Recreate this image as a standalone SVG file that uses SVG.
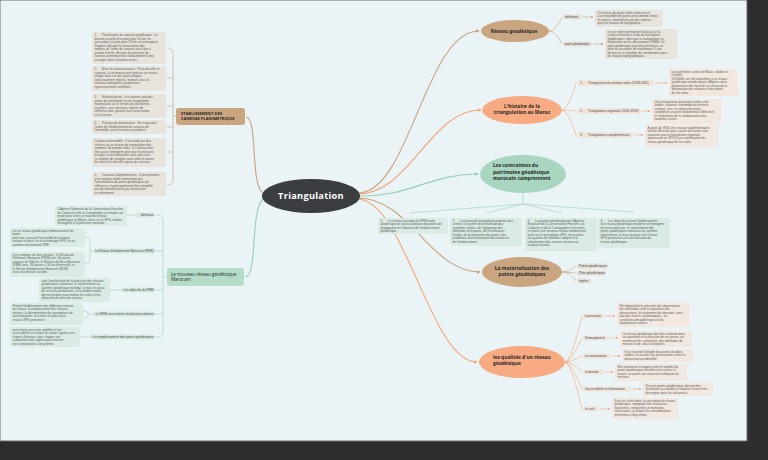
<svg xmlns="http://www.w3.org/2000/svg" width="768" height="460" viewBox="0 0 768 460">
<defs>
<style>
.t{font-family:"Liberation Sans",Arial,sans-serif;font-size:3.05px;fill:#5a5a5a;white-space:pre}
.lb{font-family:"Liberation Sans",Arial,sans-serif;font-size:3.2px;fill:#4a4a4a;white-space:pre}
.h{font-family:"Open Sans","Liberation Sans",sans-serif;font-size:4.9px;font-weight:bold;fill:#2a2a2a}
.bt{fill:#e8e4db}.bg{fill:#d9ebe2}.bp{fill:#f2e8df}
.pt{fill:#e6e0d6}.pg{fill:#d6e9df}.pp{fill:#f1e4d9}
.ct{fill:none;stroke:#c8a27a;stroke-width:1.1}
.cp{fill:none;stroke:#f6a275;stroke-width:1.1}
.cg{fill:none;stroke:#93d1b5;stroke-width:1.1}
.st{fill:none;stroke:#c8a27a;stroke-width:0.6}
.sp{fill:none;stroke:#f6a275;stroke-width:0.6}
.sg{fill:none;stroke:#93d1b5;stroke-width:0.6}
.dot{fill:#fff;stroke:#c9c9c9;stroke-width:0.4}
</style>
<marker id="mt" viewBox="0 0 6 6" refX="5" refY="3" markerWidth="4" markerHeight="4" markerUnits="userSpaceOnUse" orient="auto"><path d="M0,0L6,3L0,6z" fill="#c8a27a"/></marker>
<marker id="mp" viewBox="0 0 6 6" refX="5" refY="3" markerWidth="4" markerHeight="4" markerUnits="userSpaceOnUse" orient="auto"><path d="M0,0L6,3L0,6z" fill="#f6a275"/></marker>
<marker id="mg" viewBox="0 0 6 6" refX="5" refY="3" markerWidth="4" markerHeight="4" markerUnits="userSpaceOnUse" orient="auto"><path d="M0,0L6,3L0,6z" fill="#93d1b5"/></marker>
<marker id="st" viewBox="0 0 6 6" refX="5" refY="3" markerWidth="2.6" markerHeight="2.6" markerUnits="userSpaceOnUse" orient="auto"><path d="M0,0L6,3L0,6z" fill="#c8a27a"/></marker>
<marker id="sp" viewBox="0 0 6 6" refX="5" refY="3" markerWidth="2.6" markerHeight="2.6" markerUnits="userSpaceOnUse" orient="auto"><path d="M0,0L6,3L0,6z" fill="#f6a275"/></marker>
</defs>

<rect x="0" y="0" width="768" height="460" fill="#2d2d2d"/>
<rect x="0" y="0" width="747" height="441" fill="#eaf4f6" stroke="#6a6a6a" stroke-width="1"/>

<g id="connectors">
<path class="ct" d="M358,193 C410,193 425,31 479,31" marker-end="url(#mt)"/>
<path class="cp" d="M358,194 C410,194 430,110 481,110" marker-end="url(#mp)"/>
<path class="cg" d="M359,196 C410,197 430,174 478,174" marker-end="url(#mg)"/>
<path class="ct" d="M358,198 C410,198 430,272 480,272" marker-end="url(#mt)"/>
<path class="cp" d="M357,199 C405,199 430,362 477,362" marker-end="url(#mp)"/>
<path class="ct" d="M263,193 C250,185 258,117 246,117"/>
<path class="cg" d="M263,199 C250,210 258,277 245,277"/>
<path class="st" d="M549,31 Q556,31 562,17"/>
<path class="st" d="M549,31 Q556,31 562,44"/>
<path class="st" d="M583,17 L593,17" marker-end="url(#st)"/>
<path class="st" d="M593,44 L603,44" marker-end="url(#st)"/>
<path class="sp" d="M562,110 Q568,110 576,83"/>
<path class="sp" d="M562,110 L576,111"/>
<path class="sp" d="M562,110 Q568,110 576,135"/>
<path class="sp" d="M655,83 L667,83" marker-end="url(#sp)"/>
<path class="sp" d="M642,111 L650,111" marker-end="url(#sp)"/>
<path class="sp" d="M635,135 L643,135" marker-end="url(#sp)"/>
<path class="sg" d="M523,193 L523,204 M523,204 L410,213 M523,204 L486,213 M523,204 L562,213 M523,204 L634,212"/>
<path class="st" d="M562,272 Q570,272 576,266"/>
<path class="st" d="M562,272 L576,273"/>
<path class="st" d="M562,272 Q570,272 576,281"/>
<path class="sp" d="M565,362 Q571,362 582,316"/>
<path class="sp" d="M565,362 Q571,362 582,338"/>
<path class="sp" d="M565,362 Q571,362 582,356"/>
<path class="sp" d="M565,362 Q571,362 582,372"/>
<path class="sp" d="M565,362 Q571,362 582,389"/>
<path class="sp" d="M565,362 Q571,362 582,409"/>
<path class="sp" d="M605,316 L615,316" marker-end="url(#sp)"/>
<path class="sp" d="M610,338 L618,338" marker-end="url(#sp)"/>
<path class="sp" d="M612,356 L620,356" marker-end="url(#sp)"/>
<path class="sp" d="M605,372 L613,372" marker-end="url(#sp)"/>
<path class="sp" d="M632,389 L641,389" marker-end="url(#sp)"/>
<path class="sp" d="M600,409 L610,409" marker-end="url(#sp)"/>
<path class="st" d="M167,48 Q173,48 173,53 L173,180 Q173,185 167,185 M167,78 L173,78 M167,106 L173,106 M167,127 L173,127 M167,152 L173,152 M173,116 L176,116"/>
<path class="sg" d="M156,215 Q163,215 163,220 L163,332 Q163,337 156,337 M155,251 L163,251 M155,290 L163,290 M155,314 L163,314 M163,277 L167,277"/>
<path class="sg" d="M127,215 L135,215 M85,237 Q90,237 90,242 L90,259 Q90,264 85,264 M90,251 L94,251 M110,290 L121,290 M83,311 Q88,311 88,313 L88,316 Q88,318 83,318 M88,314 L94,314 M80,337 L91,337"/>
</g>

<g id="root">
<ellipse cx="311" cy="196" rx="49" ry="17" fill="#3a3e41"/>
<text x="311" y="199.3" text-anchor="middle" font-family="'Open Sans','Liberation Sans',sans-serif" font-size="9.2" font-weight="bold" fill="#ffffff" letter-spacing="0.3">Triangulation</text>
</g>

<g id="reseau-geodesique">
<ellipse cx="515" cy="31" rx="34" ry="11" fill="#c9a680"/>
<text class="h" x="514" y="32.8" text-anchor="middle">Réseau geodésique</text>
<circle class="dot" cx="485" cy="41" r="2"/>
</g>
<g id="rg-definition">
<rect class="pt" x="563" y="14.5" width="19" height="5" rx="2"/>
<text class="lb" x="565" y="18.1">définition</text>
</g>
<g id="rg-point">
<rect class="pt" x="563" y="41.5" width="29" height="5" rx="2"/>
<text class="lb" x="565" y="45.1">point géodésique</text>
</g>
<g id="rg-def-text">
<rect class="bt" x="595" y="10" width="68" height="17" rx="2"/>
<text class="t"><tspan x="597.5" y="13.6">Un réseau de points reliés entre eux et</tspan><tspan x="597.5" dy="3.5">à un ensemble de points précisément choisis</tspan><tspan x="597.5" dy="3.5">et connus, matérialisés par des repères</tspan><tspan x="597.5" dy="3.5">pour les travaux de topographie.</tspan></text>
</g>
<g id="rg-point-text">
<rect class="bt" x="605" y="29" width="72" height="30" rx="2"/>
<text class="t"><tspan x="607.5" y="32.6">est un repère permanent localisé sur la</tspan><tspan x="607.5" dy="3.5">surface terrestre à l'aide de techniques</tspan><tspan x="607.5" dy="3.5">géodésiques telles que la triangulation, la</tspan><tspan x="607.5" dy="3.5">trilatération ou les observations GNSS. Un</tspan><tspan x="607.5" dy="3.5">point géodésique peut être une borne, un</tspan><tspan x="607.5" dy="3.5">pilier ou un repère de nivellement. Il sert</tspan><tspan x="607.5" dy="3.5">de base à un système de coordonnées pour</tspan><tspan x="607.5" dy="3.5">les travaux topographiques.</tspan></text>
</g>

<g id="histoire">
<ellipse cx="522" cy="110" rx="40" ry="14" fill="#f8ab82"/>
<text class="h" text-anchor="middle"><tspan x="522" y="107.6">L'histoire de la</tspan><tspan x="522" dy="6.4">triangulation au Maroc</tspan></text>
<circle class="dot" cx="485" cy="130" r="2"/>
</g>
<g id="hist-1">
<rect class="pp" x="577" y="80" width="77" height="6" rx="2"/>
<text class="lb" x="580" y="84">1.      Triangulation de premier ordre (1918-1961)</text>
</g>
<g id="hist-2">
<rect class="pp" x="577" y="108" width="64" height="6" rx="2"/>
<text class="lb" x="580" y="112">2.      Triangulation régionale (1926-1956)</text>
</g>
<g id="hist-3">
<rect class="pp" x="577" y="132" width="57" height="6" rx="2"/>
<text class="lb" x="580" y="136">3.      Triangulation complémentaire</text>
</g>
<g id="hist-1-text">
<rect class="bp" x="669" y="69" width="69" height="27" rx="2"/>
<text class="t"><tspan x="671.5" y="72.6">Les premières cartes du Maroc, établies à</tspan><tspan x="671.5" dy="3.5">l'échelle</tspan><tspan x="671.5" dy="3.5">1/200000, ont été rattachées à un réseau</tspan><tspan x="671.5" dy="3.5">géodésique étendu depuis l'Algérie, mais</tspan><tspan x="671.5" dy="3.5">présentaient des lacunes au niveau de la</tspan><tspan x="671.5" dy="3.5">déformation des réseaux et des points</tspan><tspan x="671.5" dy="3.5">de 1er ordre.</tspan></text>
</g>
<g id="hist-2-text">
<rect class="bp" x="652" y="99" width="70" height="25" rx="2"/>
<text class="t"><tspan x="654.5" y="102.6">Une triangulation de premier ordre a été</tspan><tspan x="654.5" dy="3.5">établie, couvrant l'ensemble du territoire</tspan><tspan x="654.5" dy="3.5">national, avec un réseau de points</tspan><tspan x="654.5" dy="3.5">complétant un point fondamental à Merchich</tspan><tspan x="654.5" dy="3.5">et l'orientation de la compensation des</tspan><tspan x="654.5" dy="3.5">nouvelles cartes.</tspan></text>
</g>
<g id="hist-3-text">
<rect class="bp" x="645" y="125" width="73" height="22" rx="2"/>
<text class="t"><tspan x="647.5" y="128.6">À partir de 1956, des travaux supplémentaires</tspan><tspan x="647.5" dy="3.5">ont été effectués pour couvrir des zones non</tspan><tspan x="647.5" dy="3.5">couvertes par la triangulation régionale,</tspan><tspan x="647.5" dy="3.5">aboutissant en 1974 à une amélioration du</tspan><tspan x="647.5" dy="3.5">réseau géodésique de 1er ordre.</tspan></text>
</g>

<g id="contraintes">
<ellipse cx="523" cy="174" rx="43" ry="19" fill="#a8d6bf"/>
<text class="h"><tspan x="493" y="167.2">Les contraintes du</tspan><tspan x="493" dy="6.4">patrimoine géodésique</tspan><tspan x="493" dy="6.4">marocain comprennent</tspan></text>
<circle class="dot" cx="485" cy="197" r="2"/>
</g>
<g id="contr-1">
<rect class="bg" x="378" y="218" width="70" height="16" rx="2"/>
<text class="t"><tspan x="380.5" y="221.6">1.      Le réseau classique du RFM porte</tspan><tspan x="380.5" dy="3.5">géodésique de classe ordinaire des points de</tspan><tspan x="380.5" dy="3.5">propagation en l'absence de l'établissement</tspan><tspan x="380.5" dy="3.5">géodésique.</tspan></text>
</g>
<g id="contr-2">
<rect class="bg" x="450" y="218" width="72" height="28" rx="2"/>
<text class="t"><tspan x="452.5" y="221.6">2.      Le réseau de triangulation primaire des</tspan><tspan x="452.5" dy="3.5">années 50 souffre de la multitude des</tspan><tspan x="452.5" dy="3.5">systèmes utilisés, de l'adaptation des</tspan><tspan x="452.5" dy="3.5">méthodes techniques, de l'insuffisance</tspan><tspan x="452.5" dy="3.5">d'ordre, de la disparition des points, des</tspan><tspan x="452.5" dy="3.5">problèmes d'environnement des bornes et</tspan><tspan x="452.5" dy="3.5">de l'établissement.</tspan></text>
</g>
<g id="contr-3">
<rect class="bg" x="525" y="218" width="72" height="33" rx="2"/>
<text class="t"><tspan x="527.5" y="221.6">3.      La position géodésique par l'Agence</tspan><tspan x="527.5" dy="3.5">Nationale de la Conservation Foncière, du</tspan><tspan x="527.5" dy="3.5">Cadastre et de la Cartographie est la mise</tspan><tspan x="527.5" dy="3.5">en place d'un nouveau réseau fondamental</tspan><tspan x="527.5" dy="3.5">basé sur la technologie GPS, nécessitant</tspan><tspan x="527.5" dy="3.5">un système de référence adapté et le</tspan><tspan x="527.5" dy="3.5">rattachement des anciens réseaux au</tspan><tspan x="527.5" dy="3.5">nouveau réseau.</tspan></text>
</g>
<g id="contr-4">
<rect class="bg" x="598" y="218" width="72" height="30" rx="2"/>
<text class="t"><tspan x="600.5" y="221.6">4.      Les objectifs incluent l'établissement</tspan><tspan x="600.5" dy="3.5">d'un réseau géodésique moderne et homogène</tspan><tspan x="600.5" dy="3.5">de haute précision, le rattachement des</tspan><tspan x="600.5" dy="3.5">points géodésiques nationaux au système</tspan><tspan x="600.5" dy="3.5">international, la mise en place d'un réseau</tspan><tspan x="600.5" dy="3.5">GPS permanent et la densification du</tspan><tspan x="600.5" dy="3.5">réseau géodésique.</tspan></text>
</g>

<g id="materialisation">
<ellipse cx="522" cy="272" rx="40" ry="15" fill="#c9a680"/>
<text class="h" text-anchor="middle"><tspan x="522" y="269.6">La matérialisation des</tspan><tspan x="522" dy="6.4">points géodésiques</tspan></text>
<circle class="dot" cx="485" cy="292" r="2"/>
</g>
<g id="mat-1"><rect class="pt" x="577" y="263.5" width="31" height="5" rx="2"/><text class="lb" x="579" y="267.1">Points géodésiques</text></g>
<g id="mat-2"><rect class="pt" x="577" y="270.5" width="29" height="5" rx="2"/><text class="lb" x="579" y="274.1">Plots géodésiques</text></g>
<g id="mat-3"><rect class="pt" x="577" y="278.5" width="14" height="5" rx="2"/><text class="lb" x="579" y="282.1">repère</text></g>

<g id="qualites">
<ellipse cx="522" cy="362" rx="43" ry="16" fill="#f8ab82"/>
<text class="h"><tspan x="493" y="359">les qualités d'un  réseau</tspan><tspan x="493" dy="6.4">géodésique</tspan></text>
<circle class="dot" cx="485" cy="381" r="2"/>
</g>
<g id="q-precision"><rect class="pp" x="583" y="313.5" width="21" height="5" rx="2"/><text class="lb" x="585" y="317.1">la précision</text></g>
<g id="q-homog"><rect class="pp" x="583" y="335.5" width="26" height="5" rx="2"/><text class="lb" x="585" y="339.1">l'homogénéité</text></g>
<g id="q-cons"><rect class="pp" x="583" y="353.5" width="28" height="5" rx="2"/><text class="lb" x="585" y="357.1">la conservation</text></g>
<g id="q-dens"><rect class="pp" x="583" y="369.5" width="21" height="5" rx="2"/><text class="lb" x="585" y="373.1">la densité</text></g>
<g id="q-access"><rect class="pp" x="583" y="386.5" width="48" height="5" rx="2"/><text class="lb" x="585" y="390.1">l'accessibilité et l'information</text></g>
<g id="q-cout"><rect class="pp" x="583" y="406.5" width="16" height="5" rx="2"/><text class="lb" x="585" y="410.1">le coût</text></g>
<g id="q-precision-text">
<rect class="bp" x="617" y="303" width="73" height="24" rx="2"/>
<text class="t"><tspan x="619.5" y="306.6">Elle dépend de la précision des observations,</tspan><tspan x="619.5" dy="3.5">des méthodes et de la répartition des</tspan><tspan x="619.5" dy="3.5">observations, du traitement des données, ainsi</tspan><tspan x="619.5" dy="3.5">que des erreurs systématiques : les</tspan><tspan x="619.5" dy="3.5">conditions atmosphériques et les</tspan><tspan x="619.5" dy="3.5">équipements utilisés.</tspan></text>
</g>
<g id="q-homog-text">
<rect class="bp" x="620" y="331" width="72" height="16" rx="2"/>
<text class="t"><tspan x="622.5" y="334.6">Un réseau géodésique doit être uniforme dans</tspan><tspan x="622.5" dy="3.5">sa répartition et la précision de ses points, en</tspan><tspan x="622.5" dy="3.5">minimisant les contraintes, des méthodes de</tspan><tspan x="622.5" dy="3.5">mesure et de calcul constantes.</tspan></text>
</g>
<g id="q-cons-text">
<rect class="bp" x="622" y="349" width="71" height="13" rx="2"/>
<text class="t"><tspan x="624.5" y="352.6">Il est essentiel d'établir des points durables,</tspan><tspan x="624.5" dy="3.5">stables, et assurer leur préservation contre la</tspan><tspan x="624.5" dy="3.5">destruction accidentelle.</tspan></text>
</g>
<g id="q-dens-text">
<rect class="bp" x="615" y="364" width="72" height="17" rx="2"/>
<text class="t"><tspan x="617.5" y="367.6">Elle représente le rapport entre le nombre de</tspan><tspan x="617.5" dy="3.5">points géodésiques installés et la surface à</tspan><tspan x="617.5" dy="3.5">couvrir, assurant une couverture adéquate du</tspan><tspan x="617.5" dy="3.5">territoire.</tspan></text>
</g>
<g id="q-access-text">
<rect class="bp" x="643" y="383" width="70" height="13" rx="2"/>
<text class="t"><tspan x="645.5" y="386.6">Tous les points géodésiques doivent être</tspan><tspan x="645.5" dy="3.5">facilement accessibles et disposer d'une fiche</tspan><tspan x="645.5" dy="3.5">descriptive pour les utilisateurs.</tspan></text>
</g>
<g id="q-cout-text">
<rect class="bp" x="612" y="398" width="66" height="21" rx="2"/>
<text class="t"><tspan x="614.5" y="401.6">Il est un critère dans la conception du réseau</tspan><tspan x="614.5" dy="3.5">géodésique, impliquant des ressources</tspan><tspan x="614.5" dy="3.5">financières, temporelles et humaines</tspan><tspan x="614.5" dy="3.5">nécessaires, y compris les considérations</tspan><tspan x="614.5" dy="3.5">d'entretien à long terme.</tspan></text>
</g>

<g id="etablissement">
<rect x="176" y="108" width="69" height="17" rx="3" fill="#c9a680"/>
<text font-family="'Open Sans','Liberation Sans',sans-serif" font-size="4.1" font-weight="bold" fill="#2a2a2a"><tspan x="181" y="115">ETABLISSEMENT DES</tspan><tspan x="181" dy="5.2">CANEVAS PLANIMETRIQUE</tspan></text>
<circle class="dot" cx="181" cy="128" r="2"/>
</g>
<g id="etab-1">
<rect class="bt" x="92" y="32" width="74" height="32" rx="2"/>
<text class="t"><tspan x="94.5" y="36.2">1.      Planification du canevas géodésique : La</tspan><tspan x="94.5" dy="3.5">densité actuelle d'un point pour 10 km² en</tspan><tspan x="94.5" dy="3.5">zone plane (1 point pour 15 km² en montagne).</tspan><tspan x="94.5" dy="3.5">Rapport utile que la conservation des</tspan><tspan x="94.5" dy="3.5">repères de l'ordre du canevas sera faite à</tspan><tspan x="94.5" dy="3.5">grande échelle. Besoins de précision du</tspan><tspan x="94.5" dy="3.5">canevas permettant leur rattachement à des</tspan><tspan x="94.5" dy="3.5">ouvrages dans certaines zones.</tspan></text>
</g>
<g id="etab-2">
<rect class="bt" x="92" y="66" width="74" height="25" rx="2"/>
<text class="t"><tspan x="94.5" y="70">2.      Mise en reconnaissance : Pour densifier le</tspan><tspan x="94.5" dy="3.5">canevas, la reconnaissance précise un réseau</tspan><tspan x="94.5" dy="3.5">intégré basé sur des points d'appui</tspan><tspan x="94.5" dy="3.5">judicieusement répartis, formant ainsi un</tspan><tspan x="94.5" dy="3.5">canevas homogène à proportions</tspan><tspan x="94.5" dy="3.5">rigoureusement contrôlées.</tspan></text>
</g>
<g id="etab-3">
<rect class="bt" x="92" y="94" width="74" height="24" rx="2"/>
<text class="t"><tspan x="94.5" y="98">3.      Matérialisation : Les repères sont des</tspan><tspan x="94.5" dy="3.5">points de nivellement ou de triangulation</tspan><tspan x="94.5" dy="3.5">matérialisés sur le terrain par des bornes</tspan><tspan x="94.5" dy="3.5">ou piliers, avec plusieurs repères de</tspan><tspan x="94.5" dy="3.5">référence pour garantir leur conservation</tspan><tspan x="94.5" dy="3.5">sur le terrain.</tspan></text>
</g>
<g id="etab-4">
<rect class="bt" x="92" y="120" width="74" height="14" rx="2"/>
<text class="t"><tspan x="94.5" y="124">4.      Principe de densification : En respectant</tspan><tspan x="94.5" dy="3.5">l'ordre de l'établissement du canevas de</tspan><tspan x="94.5" dy="3.5">l'ensemble, puis le réseau secondaire.</tspan></text>
</g>
<g id="etab-5">
<rect class="bt" x="92" y="138" width="74" height="29" rx="2"/>
<text class="t"><tspan x="94.5" y="142">Canevas d'ensemble : Il est établi par des</tspan><tspan x="94.5" dy="3.5">chaînes ou un réseau de triangulation des</tspan><tspan x="94.5" dy="3.5">sommets de premier ordre. Le canevas doit</tspan><tspan x="94.5" dy="3.5">être assez homogène pour que les mesures</tspan><tspan x="94.5" dy="3.5">d'angles soient effectuées avec précision.</tspan><tspan x="94.5" dy="3.5">Le nombre de triangles varie selon la nature</tspan><tspan x="94.5" dy="3.5">du relief et la densité requise du canevas.</tspan></text>
</g>
<g id="etab-6">
<rect class="bt" x="92" y="172" width="74" height="24" rx="2"/>
<text class="t"><tspan x="94.5" y="176">5.      Canevas complémentaire : Il peut provenir</tspan><tspan x="94.5" dy="3.5">d'un canevas établi entièrement par</tspan><tspan x="94.5" dy="3.5">l'intermédiaire de points géodésiques de</tspan><tspan x="94.5" dy="3.5">référence, et peut également être complété</tspan><tspan x="94.5" dy="3.5">par des densifications par intersection</tspan><tspan x="94.5" dy="3.5">ou relèvement.</tspan></text>
</g>

<g id="nouveau-reseau">
<rect x="167" y="268" width="77" height="18" rx="3" fill="#b4dcc7"/>
<text font-family="'Open Sans','Liberation Sans',sans-serif" font-size="4.5" fill="#2a2a2a"><tspan x="171" y="275.5">Le nouveau réseau géodésique</tspan><tspan x="171" dy="5.5">Marocain</tspan></text>
<circle class="dot" cx="171" cy="290" r="2"/>
</g>
<g id="nr-def"><rect class="pg" x="135" y="212.5" width="20" height="5" rx="2"/><text class="lb" x="153.5" y="216.1" text-anchor="end">définition</text></g>
<g id="nr-rfm"><rect class="pg" x="94" y="248.5" width="61" height="5" rx="2"/><text class="lb" x="153.5" y="252.1" text-anchor="end">Le Réseau Fondamental Marocain (RFM)</text></g>
<g id="nr-obj"><rect class="pg" x="121" y="287.5" width="34" height="5" rx="2"/><text class="lb" x="153.5" y="291.1" text-anchor="end">Les objectifs du RFM</text></g>
<g id="nr-phases"><rect class="pg" x="94" y="311.5" width="61" height="5" rx="2"/><text class="lb" x="153.5" y="315.1" text-anchor="end">Le RFM sera réalisé en plusieurs phases</text></g>
<g id="nr-empl"><rect class="pg" x="91" y="334.5" width="64" height="5" rx="2"/><text class="lb" x="153.5" y="338.1" text-anchor="end">Les emplacements des points géodésiques</text></g>
<g id="nr-def-text">
<rect class="bg" x="55" y="206" width="72" height="20" rx="2"/>
<text class="t"><tspan x="57.5" y="210">L'Agence Nationale de la Conservation Foncière,</tspan><tspan x="57.5" dy="3.5">du Cadastre et de la Cartographie a entrepris un</tspan><tspan x="57.5" dy="3.5">projet pour créer un nouveau réseau</tspan><tspan x="57.5" dy="3.5">géodésique au Maroc, basé sur le GPS, d'ordre</tspan><tspan x="57.5" dy="3.5">homogène et à précision nationale.</tspan></text>
</g>
<g id="nr-rfm-a">
<rect class="bg" x="10" y="228" width="75" height="19" rx="2"/>
<text class="t"><tspan x="12.5" y="231.8">est un réseau géodésique tridimensionnel de</tspan><tspan x="12.5" dy="3.5">haute</tspan><tspan x="12.5" dy="3.5">précision, couvrant l'ensemble du territoire</tspan><tspan x="12.5" dy="3.5">national et basé sur la technologie GPS, lié au</tspan><tspan x="12.5" dy="3.5">système international ITRF.</tspan></text>
</g>
<g id="nr-rfm-b">
<rect class="bg" x="10" y="252" width="75" height="25" rx="2"/>
<text class="t"><tspan x="12.5" y="255.8">Il se compose de trois niveaux : le Réseau de</tspan><tspan x="12.5" dy="3.5">Référence Marocain (RRM) avec 60 points</tspan><tspan x="12.5" dy="3.5">espacés de 300 km, le Réseau de Base Marocain</tspan><tspan x="12.5" dy="3.5">(RBM) avec 700 points à 50 km d'intervalle, et</tspan><tspan x="12.5" dy="3.5">le Réseau Fondamental Marocain (RDM)</tspan><tspan x="12.5" dy="3.5">avec une densité variable.</tspan></text>
</g>
<g id="nr-obj-text">
<rect class="bg" x="39" y="278" width="71" height="24" rx="2"/>
<text class="t"><tspan x="41.5" y="281.8">vise l'amélioration de la précision des réseaux</tspan><tspan x="41.5" dy="3.5">géodésiques nationaux, le rattachement au</tspan><tspan x="41.5" dy="3.5">système géodésique mondial, la mise en place</tspan><tspan x="41.5" dy="3.5">de services permanents, et la modernisation</tspan><tspan x="41.5" dy="3.5">des techniques pour réduire les coûts et les</tspan><tspan x="41.5" dy="3.5">délais d'exécution des travaux.</tspan></text>
</g>
<g id="nr-phases-text">
<rect class="bg" x="10" y="303" width="73" height="22" rx="2"/>
<text class="t"><tspan x="12.5" y="306.8">Prévoit l'établissement des différents niveaux</tspan><tspan x="12.5" dy="3.5">du réseau, le remplacement des réseaux</tspan><tspan x="12.5" dy="3.5">anciens, la détermination des paramètres de</tspan><tspan x="12.5" dy="3.5">transformation, et la mise en place d'un</tspan><tspan x="12.5" dy="3.5">réseau GPS permanent.</tspan></text>
</g>
<g id="nr-empl-text">
<rect class="bg" x="10" y="327" width="70" height="20" rx="2"/>
<text class="t"><tspan x="12.5" y="330.8">sont choisis pour leur stabilité et leur</tspan><tspan x="12.5" dy="3.5">accessibilité, en évitant les zones sujettes aux</tspan><tspan x="12.5" dy="3.5">risques d'érosion, avec chaque site</tspan><tspan x="12.5" dy="3.5">comportant trois repères pour assurer</tspan><tspan x="12.5" dy="3.5">leur conservation à long terme.</tspan></text>
</g>
</svg>
